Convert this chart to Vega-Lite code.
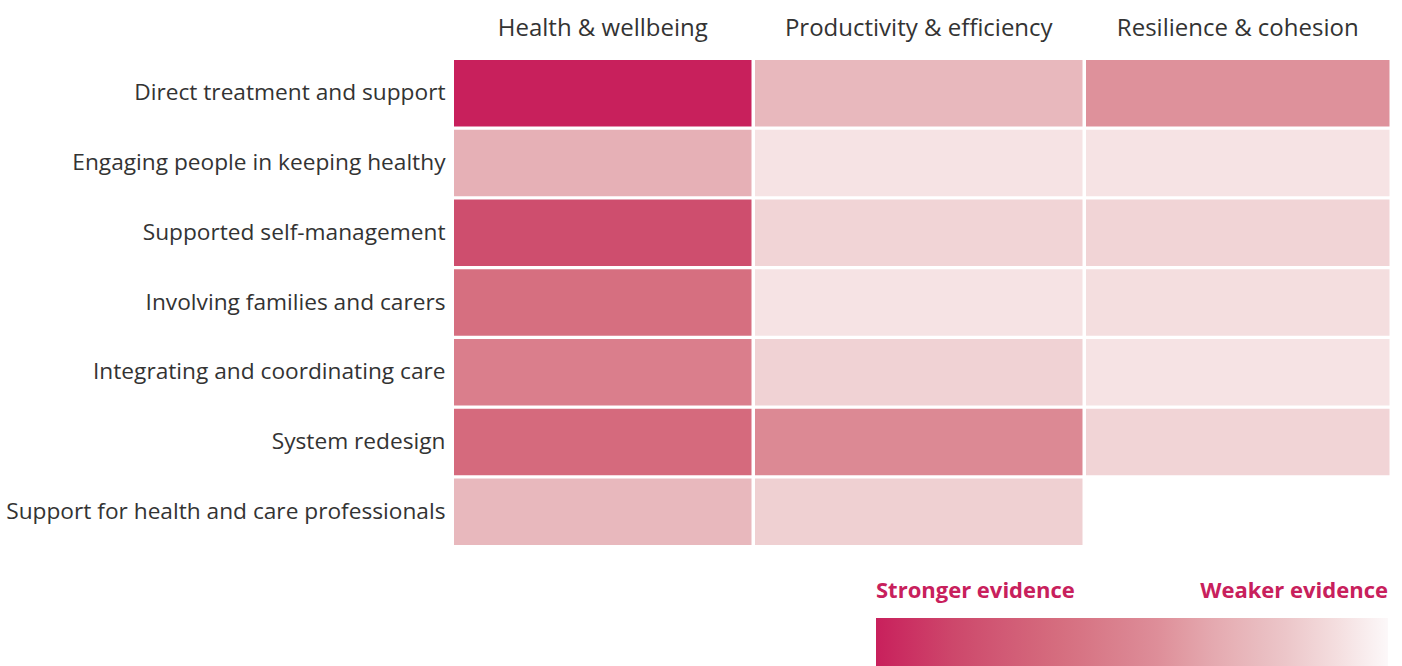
{
  "$schema": "https://vega.github.io/schema/vega-lite/v6.json",
  "padding": {"left": 5, "top": 16, "right": 5, "bottom": 5},
  "background": "white",
  "config": {
    "view": {"stroke": null},
    "font": "Open Sans",
    "concat": {"spacing": 3},
    "axis": {"ticks": false, "tickSize": 0, "domain": false, "grid": false, "title": null, "labelFont": "Open Sans", "labelFontSize": 24, "labelColor": "#333333", "labelLimit": 700}
  },
  "datasets": {
    "cells": [
      {"approach": "Direct treatment and support", "outcome": "Health & wellbeing", "weakness": 0.0},
      {"approach": "Engaging people in keeping healthy", "outcome": "Health & wellbeing", "weakness": 0.69},
      {"approach": "Supported self-management", "outcome": "Health & wellbeing", "weakness": 0.18},
      {"approach": "Involving families and carers", "outcome": "Health & wellbeing", "weakness": 0.37},
      {"approach": "Integrating and coordinating care", "outcome": "Health & wellbeing", "weakness": 0.46},
      {"approach": "System redesign", "outcome": "Health & wellbeing", "weakness": 0.34},
      {"approach": "Support for health and care professionals", "outcome": "Health & wellbeing", "weakness": 0.73},
      {"approach": "Direct treatment and support", "outcome": "Productivity & efficiency", "weakness": 0.73},
      {"approach": "Engaging people in keeping healthy", "outcome": "Productivity & efficiency", "weakness": 0.92},
      {"approach": "Supported self-management", "outcome": "Productivity & efficiency", "weakness": 0.86},
      {"approach": "Involving families and carers", "outcome": "Productivity & efficiency", "weakness": 0.92},
      {"approach": "Integrating and coordinating care", "outcome": "Productivity & efficiency", "weakness": 0.85},
      {"approach": "System redesign", "outcome": "Productivity & efficiency", "weakness": 0.52},
      {"approach": "Support for health and care professionals", "outcome": "Productivity & efficiency", "weakness": 0.84},
      {"approach": "Direct treatment and support", "outcome": "Resilience & cohesion", "weakness": 0.56},
      {"approach": "Engaging people in keeping healthy", "outcome": "Resilience & cohesion", "weakness": 0.92},
      {"approach": "Supported self-management", "outcome": "Resilience & cohesion", "weakness": 0.86},
      {"approach": "Involving families and carers", "outcome": "Resilience & cohesion", "weakness": 0.9},
      {"approach": "Integrating and coordinating care", "outcome": "Resilience & cohesion", "weakness": 0.92},
      {"approach": "System redesign", "outcome": "Resilience & cohesion", "weakness": 0.86}
    ]
  },
  "resolve": {"scale": {"y": "shared", "color": "shared"}},
  "hconcat": [
    {
      "width": 297.5, "height": 485,
      "data": {"name": "cells"},
      "transform": [{"filter": "datum.outcome === 'Health & wellbeing'"}],
      "mark": {"type": "rect"},
      "encoding": {
        "x": {"field": "outcome", "type": "nominal", "scale": {"paddingInner": 0, "paddingOuter": 0}, "axis": {"orient": "top", "labelAngle": 0, "labelBaseline": "alphabetic", "labelPadding": 25}},
        "y": {"field": "approach", "type": "nominal", "scale": {"domain": ["Direct treatment and support", "Engaging people in keeping healthy", "Supported self-management", "Involving families and carers", "Integrating and coordinating care", "System redesign", "Support for health and care professionals"], "paddingInner": 0.045, "paddingOuter": 0}, "axis": {"labelPadding": 9, "labelFontSize": 22.7, "labelAlign": "right", "labelBaseline": "middle"}},
        "color": {"field": "weakness", "type": "quantitative",
          "scale": {"domain": [0, 0.17, 0.37, 0.54, 0.67, 0.8, 0.9, 1], "range": ["#C8205C", "#CE4C6D", "#D66F80", "#DD8C97", "#E5ACB2", "#ECC6C9", "#F4DEDF", "#FCF8F9"], "interpolate": "rgb"},
          "legend": {"orient": "none", "legendX": 422, "legendY": 558, "direction": "horizontal", "title": null, "values": [0, 1], "gradientLength": 512, "gradientThickness": 50, "gradientStrokeWidth": 0, "padding": 0, "labelOffset": -87, "labelFont": "Open Sans", "labelFontSize": 22, "labelFontWeight": "bold", "labelColor": "#C8205C", "labelOverlap": false, "labelExpr": "datum.value === 0 ? 'Stronger evidence' : 'Weaker evidence'"}}
      }
    },
    {
      "width": 327.5, "height": 485,
      "data": {"name": "cells"},
      "transform": [{"filter": "datum.outcome === 'Productivity & efficiency'"}],
      "mark": {"type": "rect"},
      "encoding": {
        "x": {"field": "outcome", "type": "nominal", "scale": {"paddingInner": 0, "paddingOuter": 0}, "axis": {"orient": "top", "labelAngle": 0, "labelBaseline": "alphabetic", "labelPadding": 25}},
        "y": {"field": "approach", "type": "nominal", "axis": null},
        "color": {"field": "weakness", "type": "quantitative"}
      }
    },
    {
      "width": 303.5, "height": 485,
      "data": {"name": "cells"},
      "transform": [{"filter": "datum.outcome === 'Resilience & cohesion'"}],
      "mark": {"type": "rect"},
      "encoding": {
        "x": {"field": "outcome", "type": "nominal", "scale": {"paddingInner": 0, "paddingOuter": 0}, "axis": {"orient": "top", "labelAngle": 0, "labelBaseline": "alphabetic", "labelPadding": 25}},
        "y": {"field": "approach", "type": "nominal", "axis": null},
        "color": {"field": "weakness", "type": "quantitative"}
      }
    }
  ]
}
